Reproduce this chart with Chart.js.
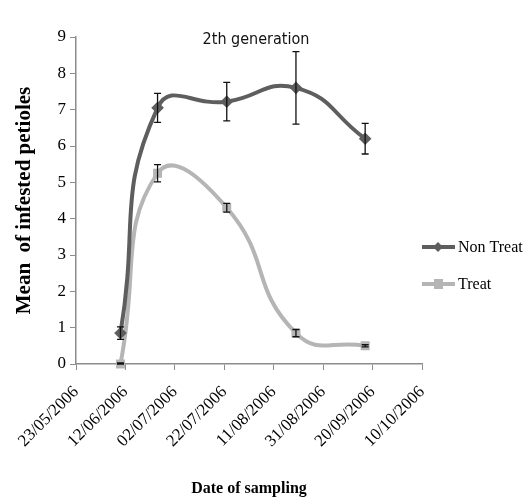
<!DOCTYPE html>
<html>
<head>
<meta charset="utf-8">
<script src="https://cdn.jsdelivr.net/npm/chart.js@4.4.0/dist/chart.umd.min.js"></script>
<style>
html,body{margin:0;padding:0;background:#fff;}
#wrap{width:526px;height:500px;position:relative;}
</style>
</head>
<body>
<div id="wrap"><canvas id="c" width="526" height="500"></canvas></div>
<script>
// ---- data ----
const startDate = '23/05/2006';
const tickLabels = ['23/05/2006','12/06/2006','02/07/2006','22/07/2006','11/08/2006','31/08/2006','20/09/2006','10/10/2006'];
const samplingDates = ['10/06/2006','25/06/2006','23/07/2006','20/08/2006','17/09/2006'];
const nonTreat = [0.85, 7.05, 7.22, 7.6, 6.2];
const nonTreatErr = [0.17, 0.4, 0.53, 1.0, 0.42];
const treat = [0.0, 5.25, 4.3, 0.85, 0.5];
const treatErr = [0.03, 0.24, 0.12, 0.1, 0.03];
const seriesNames = ['Non Treat', 'Treat'];
const chartTitle = '2th generation';
const xTitle = 'Date of sampling';
const yTitle = 'Mean  of infested petioles';

function dayOffset(s) {
  const p = s.split('/').map(Number);
  const q = startDate.split('/').map(Number);
  return (Date.UTC(p[2], p[1]-1, p[0]) - Date.UTC(q[2], q[1]-1, q[0])) / 86400000;
}
const xs = samplingDates.map(dayOffset);
const serif = "'Liberation Serif','Times New Roman',serif";

const errorBars = {
  id: 'errorBars',
  afterDatasetsDraw(chart) {
    const ctx = chart.ctx, xS = chart.scales.x, yS = chart.scales.y;
    ctx.save();
    ctx.strokeStyle = '#111';
    ctx.lineWidth = 1.3;
    chart.data.datasets.forEach(ds => {
      ds.data.forEach((pt, i) => {
        const e = ds.errors[i];
        const px = xS.getPixelForValue(pt.x);
        const top = yS.getPixelForValue(pt.y + e);
        const bot = yS.getPixelForValue(Math.max(0, pt.y - e));
        ctx.beginPath();
        ctx.moveTo(px, top); ctx.lineTo(px, bot);
        ctx.moveTo(px - 3.5, top); ctx.lineTo(px + 3.5, top);
        ctx.moveTo(px - 3.5, bot); ctx.lineTo(px + 3.5, bot);
        ctx.stroke();
      });
    });
    ctx.restore();
  }
};

const extras = {
  id: 'extras',
  afterDraw(chart) {
    const ctx = chart.ctx;
    ctx.save();
    // title
    ctx.fillStyle = '#111';
    ctx.font = "16px 'DejaVu Sans Condensed','Liberation Sans Narrow','Arial Narrow',sans-serif";
    ctx.textAlign = 'center';
    ctx.textBaseline = 'middle';
    ctx.fillText(chartTitle, 256, 40);
    // legend
    const rows = [247, 284];
    chart.data.datasets.forEach((ds, i) => {
      const y = rows[i];
      ctx.strokeStyle = ds.borderColor;
      ctx.lineWidth = 4;
      ctx.beginPath();
      ctx.moveTo(422, y); ctx.lineTo(455, y);
      ctx.stroke();
      ctx.fillStyle = ds.pointBackgroundColor;
      ctx.beginPath();
      if (ds.pointStyle === 'rectRot') {
        ctx.moveTo(438, y - 5); ctx.lineTo(443, y); ctx.lineTo(438, y + 5); ctx.lineTo(433, y);
      } else {
        ctx.rect(434, y - 5, 9, 10);
      }
      ctx.closePath();
      ctx.fill();
      ctx.fillStyle = '#000';
      ctx.font = "16px " + serif;
      ctx.textAlign = 'left';
      ctx.fillText(ds.label, 458, y + 1);
    });
    ctx.restore();
  }
};

new Chart(document.getElementById('c'), {
  type: 'line',
  data: {
    datasets: [
      {
        label: seriesNames[0],
        data: xs.map((x, i) => ({x, y: nonTreat[i]})),
        errors: nonTreatErr,
        borderColor: '#5e5e5e',
        backgroundColor: '#5e5e5e',
        pointBackgroundColor: '#5e5e5e',
        pointBorderColor: '#5e5e5e',
        pointStyle: 'rectRot',
        pointRadius: 3.5,
        borderWidth: 4,
        tension: 0.5,
        fill: false
      },
      {
        label: seriesNames[1],
        data: xs.map((x, i) => ({x, y: treat[i]})),
        errors: treatErr,
        borderColor: '#b5b5b5',
        backgroundColor: '#b5b5b5',
        pointBackgroundColor: '#b5b5b5',
        pointBorderColor: '#b5b5b5',
        pointStyle: 'rect',
        pointRadius: 3.5,
        borderWidth: 4,
        tension: 0.5,
        fill: false
      }
    ]
  },
  options: {
    responsive: false,
    animation: false,
    clip: false,
    layout: { padding: { top: 37, right: 104, left: 0, bottom: 0 } },
    plugins: { legend: { display: false }, tooltip: { enabled: false }, title: { display: false } },
    scales: {
      x: {
        type: 'linear',
        min: 0, max: 140,
        afterFit(s) { s.height = 136; },
        afterBuildTicks(s) { s.ticks = tickLabels.map((t, i) => ({value: i * 20})); },
        ticks: {
          autoSkip: false,
          maxRotation: 45, minRotation: 45,
          color: '#000',
          padding: 12,
          font: { family: serif, size: 17 },
          callback: (v) => tickLabels[Math.round(v / 20)]
        },
        grid: { drawOnChartArea: false, drawTicks: true, tickLength: 6, color: '#8c8c8c' },
        border: { color: '#8c8c8c', width: 1.5 },
        title: { display: true, text: xTitle, color: '#000', font: { family: serif, size: 16, weight: 'bold' }, padding: { top: 0, bottom: 2 } }
      },
      y: {
        min: 0, max: 9,
        afterFit(s) { s.width = 76; },
        ticks: { stepSize: 1, color: '#000', padding: 4, font: { family: serif, size: 17 } },
        grid: { drawOnChartArea: false, drawTicks: true, tickLength: 6, color: '#8c8c8c' },
        border: { color: '#8c8c8c', width: 1.5 },
        title: { display: true, text: yTitle, color: '#000', font: { family: serif, size: 21, weight: 'bold' }, padding: { top: 12, bottom: 0 } }
      }
    }
  },
  plugins: [errorBars, extras]
});
</script>
</body>
</html>
